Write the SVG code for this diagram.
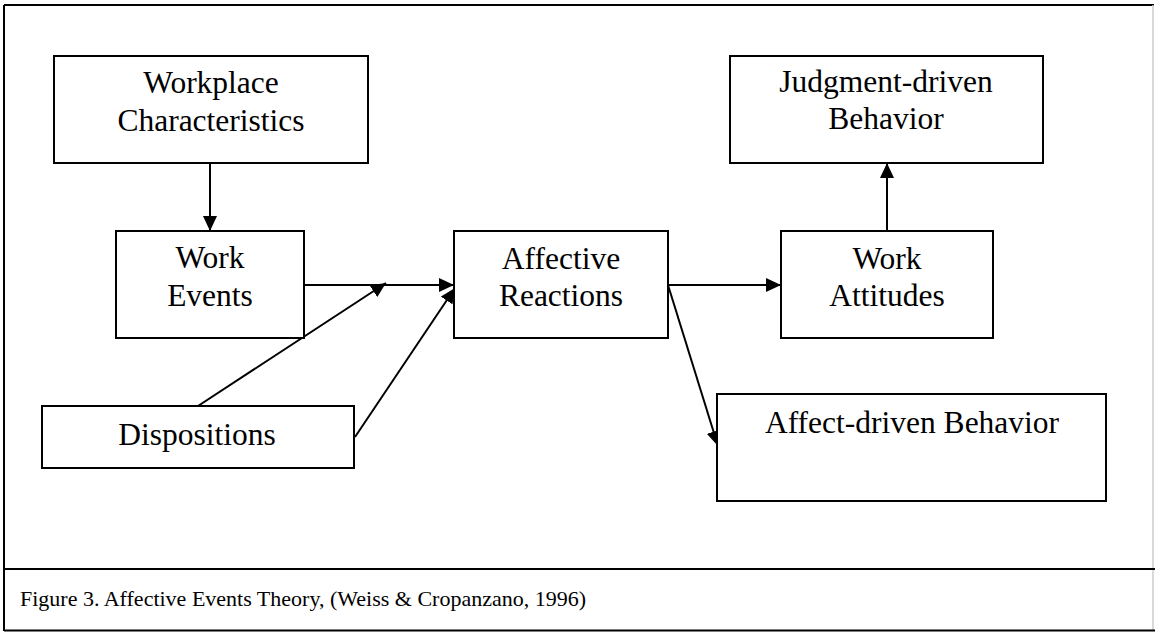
<svg xmlns="http://www.w3.org/2000/svg" width="1155" height="632" viewBox="0 0 1155 632">
<defs>
<marker id="ah" markerUnits="userSpaceOnUse" markerWidth="16" markerHeight="14" refX="15" refY="7" orient="auto">
<path d="M0,0 L15,7 L0,14 z" fill="#000"/>
</marker>
<style>
.box{fill:#fff;stroke:#000;stroke-width:2}
.t{font-family:"Liberation Serif","Times New Roman",serif;font-size:31.5px;fill:#000;text-anchor:middle}
.cap{font-family:"Liberation Serif","Times New Roman",serif;font-size:22px;fill:#000}
.c{fill:none;stroke:#000;stroke-width:2;marker-end:url(#ah)}
</style>
</defs>
<rect width="1155" height="632" fill="#fff"/>
<g id="frame">
<line x1="4" y1="5" x2="1154" y2="5" stroke="#000" stroke-width="2"/>
<line x1="4" y1="5" x2="4" y2="631" stroke="#000" stroke-width="2"/>
<line x1="1153" y1="5" x2="1153" y2="631" stroke="#ccc" stroke-width="1.5"/>
<line x1="4" y1="569" x2="1155" y2="569" stroke="#000" stroke-width="2"/>
<line x1="4" y1="630.5" x2="1155" y2="630.5" stroke="#000" stroke-width="2"/>
<text class="cap" x="20" y="606">Figure 3. Affective Events Theory, (Weiss &amp; Cropanzano, 1996)</text>
</g>
<g id="connectors">
<line class="c" x1="210" y1="163" x2="210" y2="231"/>
<line class="c" x1="304" y1="285" x2="454" y2="285"/>
<line class="c" x1="198" y1="406" x2="386" y2="283"/>
<line class="c" x1="355" y1="437" x2="455" y2="288"/>
<line class="c" x1="668" y1="285" x2="781" y2="285"/>
<line class="c" x1="887" y1="231" x2="887" y2="163"/>
<line class="c" x1="668" y1="285" x2="718" y2="446"/>
</g>
<g id="workplace">
<rect class="box" x="54" y="56" width="314" height="107"/>
<text class="t" x="211" y="93">Workplace</text>
<text class="t" x="211" y="131">Characteristics</text>
</g>
<g id="work-events">
<rect class="box" x="116" y="231" width="188" height="107"/>
<text class="t" x="210" y="268">Work</text>
<text class="t" x="210" y="306">Events</text>
</g>
<g id="dispositions">
<rect class="box" x="42" y="406" width="312" height="62"/>
<text class="t" x="197" y="445">Dispositions</text>
</g>
<g id="affective-reactions">
<rect class="box" x="454" y="231" width="214" height="107"/>
<text class="t" x="561" y="269">Affective</text>
<text class="t" x="561" y="306">Reactions</text>
</g>
<g id="work-attitudes">
<rect class="box" x="781" y="231" width="212" height="107"/>
<text class="t" x="887" y="269">Work</text>
<text class="t" x="887" y="306">Attitudes</text>
</g>
<g id="judgment-behavior">
<rect class="box" x="730" y="56" width="313" height="107"/>
<text class="t" x="886" y="92">Judgment-driven</text>
<text class="t" x="886" y="129">Behavior</text>
</g>
<g id="affect-behavior">
<rect class="box" x="717" y="394" width="389" height="107"/>
<text class="t" x="912" y="433">Affect-driven Behavior</text>
</g>
</svg>
